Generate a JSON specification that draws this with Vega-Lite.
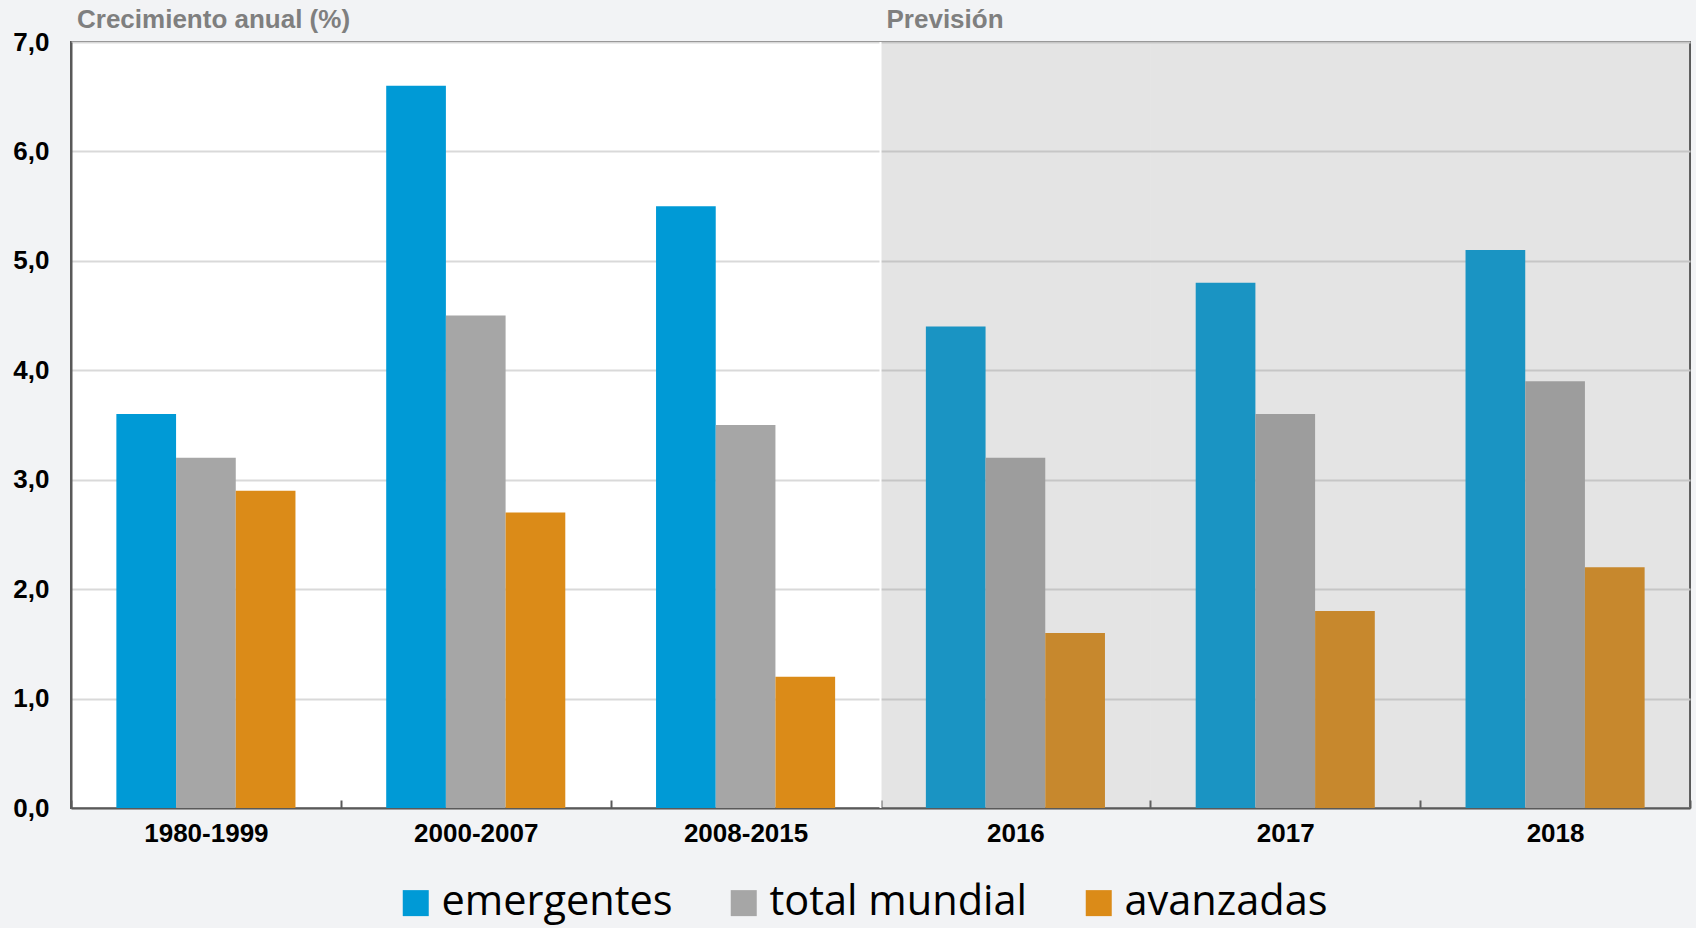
{
  "$schema": "https://vega.github.io/schema/vega-lite/v6.json",
  "width": 1619,
  "height": 766,
  "autosize": {"type": "none"},
  "padding": {"left": 71, "top": 42, "right": 6, "bottom": 120},
  "background": "#f2f3f5",
  "config": {
    "view": {"fill": "white", "stroke": "#595959", "strokeWidth": 2},
    "font": "Liberation Sans",
    "axisX": {
      "labelAngle": 0,
      "labelFont": "Liberation Sans",
      "labelFontSize": 26,
      "labelFontWeight": "bold",
      "labelColor": "black",
      "labelPadding": 20,
      "domainColor": "#595959",
      "domainWidth": 2,
      "tickColor": "#595959",
      "tickWidth": 2,
      "tickSize": -8,
      "tickBand": "extent",
      "grid": false
    },
    "axisY": {
      "labelFont": "Liberation Sans",
      "labelFontSize": 26,
      "labelFontWeight": "bold",
      "labelColor": "black",
      "labelPadding": 22,
      "ticks": false,
      "domainColor": "#595959",
      "domainWidth": 2,
      "grid": true,
      "gridColor": "#d9d9d9",
      "gridWidth": 2
    }
  },
  "datasets": {
    "growth": [
      {"periodo": "1980-1999", "serie": "emergentes", "valor": 3.6},
      {"periodo": "1980-1999", "serie": "total mundial", "valor": 3.2},
      {"periodo": "1980-1999", "serie": "avanzadas", "valor": 2.9},
      {"periodo": "2000-2007", "serie": "emergentes", "valor": 6.6},
      {"periodo": "2000-2007", "serie": "total mundial", "valor": 4.5},
      {"periodo": "2000-2007", "serie": "avanzadas", "valor": 2.7},
      {"periodo": "2008-2015", "serie": "emergentes", "valor": 5.5},
      {"periodo": "2008-2015", "serie": "total mundial", "valor": 3.5},
      {"periodo": "2008-2015", "serie": "avanzadas", "valor": 1.2},
      {"periodo": "2016", "serie": "emergentes", "valor": 4.4},
      {"periodo": "2016", "serie": "total mundial", "valor": 3.2},
      {"periodo": "2016", "serie": "avanzadas", "valor": 1.6},
      {"periodo": "2017", "serie": "emergentes", "valor": 4.8},
      {"periodo": "2017", "serie": "total mundial", "valor": 3.6},
      {"periodo": "2017", "serie": "avanzadas", "valor": 1.8},
      {"periodo": "2018", "serie": "emergentes", "valor": 5.1},
      {"periodo": "2018", "serie": "total mundial", "valor": 3.9},
      {"periodo": "2018", "serie": "avanzadas", "valor": 2.2}
    ],
    "forecast": [{"periodo": "2016"}, {"periodo": "2017"}, {"periodo": "2018"}],
    "boundary": [{"periodo": "2016"}],
    "labels": [
      {"periodo": "1980-1999", "texto": "Crecimiento anual (%)"},
      {"periodo": "2016", "texto": "Previsión"}
    ]
  },
  "layer": [
    {
      "data": {"name": "growth"},
      "mark": {"type": "bar"},
      "encoding": {
        "x": {
          "field": "periodo",
          "type": "nominal",
          "title": null,
          "sort": null,
          "scale": {
            "domain": ["1980-1999", "2000-2007", "2008-2015", "2016", "2017", "2018"],
            "paddingInner": 0,
            "paddingOuter": 0
          }
        },
        "xOffset": {
          "field": "serie",
          "type": "nominal",
          "sort": ["emergentes", "total mundial", "avanzadas"],
          "scale": {"paddingInner": 0, "paddingOuter": 0.76}
        },
        "y": {
          "field": "valor",
          "type": "quantitative",
          "title": null,
          "scale": {"domain": [0, 7], "nice": false},
          "axis": {
            "values": [0, 1, 2, 3, 4, 5, 6, 7],
            "labelExpr": "replace(format(datum.value, '.1f'), '.', ',')"
          }
        },
        "color": {
          "field": "serie",
          "type": "nominal",
          "sort": ["emergentes", "total mundial", "avanzadas"],
          "scale": {
            "domain": ["emergentes", "total mundial", "avanzadas"],
            "range": ["#009ad6", "#a6a6a6", "#db8b18"]
          },
          "legend": {
            "title": null,
            "orient": "none",
            "legendX": 324,
            "legendY": 840,
            "direction": "horizontal",
            "symbolType": "square",
            "symbolSize": 676,
            "symbolStrokeWidth": 0,
            "symbolOpacity": 1,
            "labelFont": "Open Sans",
            "labelFontSize": 41.5,
            "labelColor": "black",
            "labelOffset": 5,
            "labelLimit": 400,
            "columnPadding": 50
          }
        }
      }
    },
    {
      "data": {"name": "forecast"},
      "mark": {"type": "rect", "fill": "#7d7d7d", "opacity": 0.208},
      "encoding": {
        "x": {"field": "periodo", "type": "nominal", "title": null},
        "y": {"datum": 0, "type": "quantitative", "title": null},
        "y2": {"datum": 7}
      }
    },
    {
      "data": {"name": "boundary"},
      "mark": {"type": "rule", "color": "white", "strokeWidth": 2},
      "encoding": {
        "x": {"field": "periodo", "type": "nominal", "bandPosition": 0, "title": null}
      }
    },
    {
      "data": {"name": "labels"},
      "mark": {
        "type": "text",
        "font": "Liberation Sans",
        "fontSize": 26,
        "fontWeight": "bold",
        "color": "#7f7f7f",
        "align": "left",
        "baseline": "alphabetic",
        "dx": 6,
        "dy": -14
      },
      "encoding": {
        "x": {"field": "periodo", "type": "nominal", "bandPosition": 0, "title": null},
        "y": {"datum": 7, "type": "quantitative", "title": null},
        "text": {"field": "texto"}
      }
    }
  ]
}
